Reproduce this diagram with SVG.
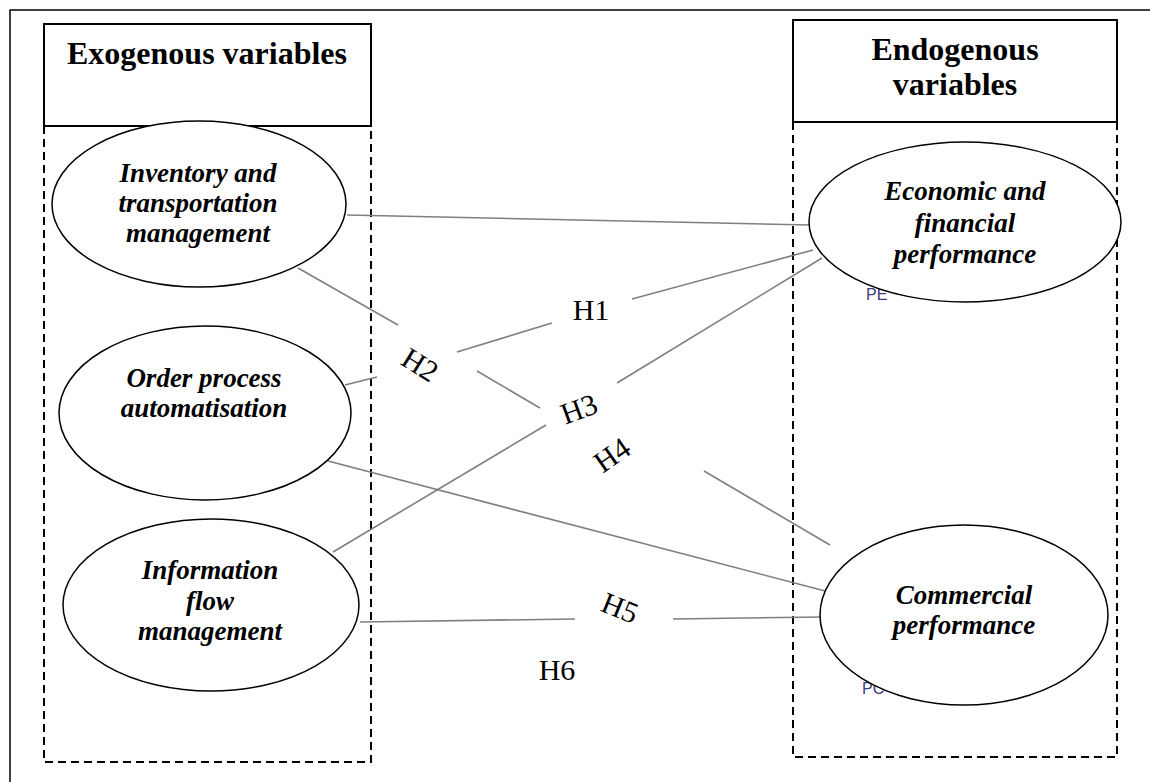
<svg xmlns="http://www.w3.org/2000/svg" width="1150" height="782" viewBox="0 0 1150 782">
<style>
.frame{fill:none;stroke:#000;stroke-width:1.5}
.hdr{fill:#fff;stroke:#000;stroke-width:2}
.dash{fill:none;stroke:#000;stroke-width:2;stroke-dasharray:8,5}
.node{fill:#fff;stroke:#000;stroke-width:1.5}
.ht{font-family:"Liberation Serif","Times New Roman",serif;font-weight:bold;font-size:32px;text-anchor:middle;fill:#000}
.nt{font-family:"Liberation Serif","Times New Roman",serif;font-weight:bold;font-style:italic;font-size:27px;text-anchor:middle;fill:#000}
.lbl{font-family:"Liberation Serif","Times New Roman",serif;font-size:30px;text-anchor:middle;fill:#000}
.frag{font-family:"Liberation Sans",Arial,sans-serif;font-size:16px;fill:#3c3c7a}
.edge{stroke:#7f7f7f;stroke-width:1.6;fill:none}
</style>
<rect width="1150" height="782" fill="#fff"/>
<path class="frame" d="M10,782 V10 H1150"/>
<g id="exogenous-group">
<rect class="hdr" x="44" y="24" width="327" height="102"/>
<text class="ht" x="207" y="64">Exogenous variables</text>
<path class="dash" d="M44,126 V762 H371 V126"/>
</g>
<g id="endogenous-group">
<rect class="hdr" x="793" y="20" width="324" height="102"/>
<text class="ht" x="955" y="60">Endogenous</text>
<text class="ht" x="955" y="95">variables</text>
<path class="dash" d="M793,122 V757 H1117 V122"/>
</g>
<g id="connectors">
<line class="edge" x1="347" y1="215" x2="810" y2="225"/>
<line class="edge" x1="298" y1="268" x2="398" y2="325"/>
<line class="edge" x1="477" y1="371" x2="540" y2="408"/>
<line class="edge" x1="704" y1="471" x2="830" y2="545"/>
<line class="edge" x1="345" y1="385" x2="377" y2="377"/>
<line class="edge" x1="457" y1="352" x2="552" y2="323"/>
<line class="edge" x1="632" y1="299" x2="813" y2="250"/>
<line class="edge" x1="328" y1="461" x2="829" y2="592"/>
<line class="edge" x1="333" y1="552" x2="546" y2="425"/>
<line class="edge" x1="617" y1="383" x2="822" y2="258"/>
<line class="edge" x1="360" y1="622" x2="575" y2="619"/>
<line class="edge" x1="673" y1="619" x2="822" y2="617"/>
</g>
<g id="labels">
<text class="lbl" x="591" y="320">H1</text>
<text class="lbl" transform="translate(420,365) rotate(32)" x="0" y="10">H2</text>
<text class="lbl" transform="translate(579,409) rotate(-20)" x="0" y="10">H3</text>
<text class="lbl" transform="translate(612,455) rotate(-35)" x="0" y="10">H4</text>
<text class="lbl" transform="translate(620,608) rotate(22)" x="0" y="10">H5</text>
<text class="lbl" x="557" y="680">H6</text>
</g>
<g id="fragments">
<text class="frag" x="866" y="300">PE</text>
<text class="frag" x="862" y="694">PC</text>
</g>
<g id="node-inventory">
<ellipse class="node" cx="199" cy="204" rx="147" ry="83"/>
<text class="nt" x="198" y="182">Inventory and</text>
<text class="nt" x="198" y="212">transportation</text>
<text class="nt" x="198" y="242">management</text>
</g>
<g id="node-order">
<ellipse class="node" cx="205" cy="413" rx="146" ry="87"/>
<text class="nt" x="204" y="387">Order process</text>
<text class="nt" x="204" y="417">automatisation</text>
</g>
<g id="node-information">
<ellipse class="node" cx="211" cy="605" rx="148" ry="86"/>
<text class="nt" x="210" y="579">Information</text>
<text class="nt" x="210" y="610">flow</text>
<text class="nt" x="210" y="640">management</text>
</g>
<g id="node-economic">
<ellipse class="node" cx="965" cy="222" rx="156" ry="80"/>
<text class="nt" x="965" y="200">Economic and</text>
<text class="nt" x="965" y="232">financial</text>
<text class="nt" x="965" y="263">performance</text>
</g>
<g id="node-commercial">
<ellipse class="node" cx="964" cy="615" rx="144" ry="90"/>
<text class="nt" x="964" y="604">Commercial</text>
<text class="nt" x="964" y="634">performance</text>
</g>
</svg>
